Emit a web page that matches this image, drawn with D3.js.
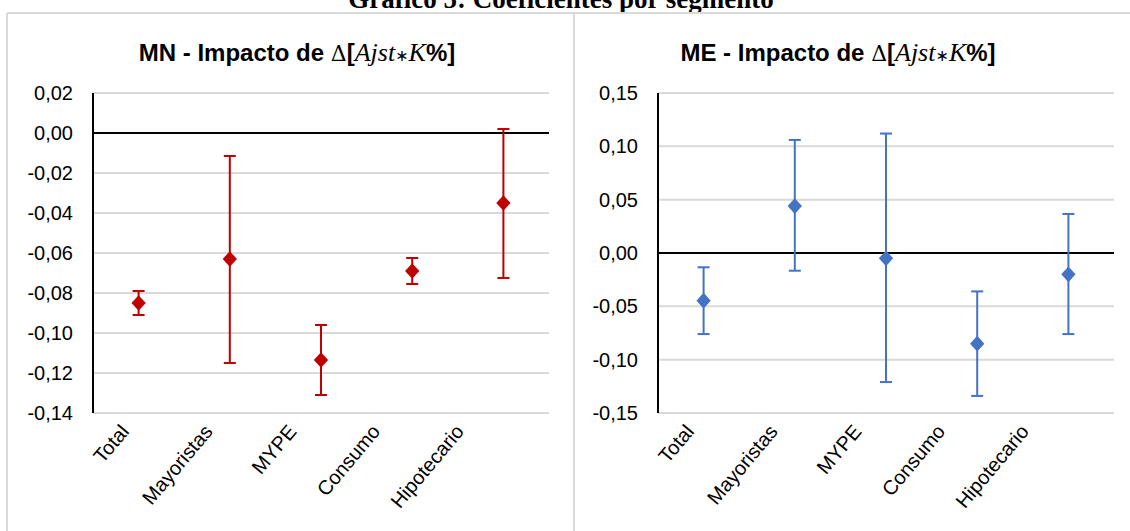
<!DOCTYPE html>
<html lang="es">
<head>
<meta charset="utf-8">
<script src="https://d3js.org/d3.v7.min.js"></script>
<style>
	body { margin: 0; background: #fff; }
	text { font-family: "Liberation Sans", Arial, sans-serif; }
</style>
</head>
<body>
<script>
	var width = 1130;
	var height = 531;

	// data
	var categories = ["Total", "Mayoristas", "MYPE", "Consumo", "Hipotecario"];

	var mnValues = [-0.085, -0.063, -0.1135, -0.069, -0.035];
	var mnUpper  = [-0.079, -0.0115, -0.096, -0.0625, 0.002];
	var mnLower  = [-0.091, -0.115, -0.131, -0.0755, -0.0725];
	var mnTicks  = [0.02, 0.00, -0.02, -0.04, -0.06, -0.08, -0.10, -0.12, -0.14];

	var meValues = [-0.0447, 0.044, -0.005, -0.085, -0.020];
	var meUpper  = [-0.0134, 0.106, 0.112, -0.036, 0.0366];
	var meLower  = [-0.076, -0.0166, -0.121, -0.134, -0.076];
	var meTicks  = [0.15, 0.10, 0.05, 0.00, -0.05, -0.10, -0.15];

	var svg = d3.select("body").append("svg")
		.attr("width", width)
		.attr("height", height);

	// page title (cut off at the top, as in the source)
	svg.append("text")
		.attr("x", 561)
		.attr("y", 8)
		.attr("text-anchor", "middle")
		.style("font-family", "'Liberation Serif', 'Times New Roman', serif")
		.style("font-weight", "bold")
		.style("font-size", "27px")
		.text("Gráfico 5: Coeficientes por segmento");

	// panel borders
	svg.append("line").attr("x1", 7).attr("x2", width).attr("y1", 13).attr("y2", 13)
		.attr("stroke", "#d9d9d9").attr("stroke-width", 2);
	svg.append("line").attr("x1", 7).attr("x2", 7).attr("y1", 13).attr("y2", height)
		.attr("stroke", "#d9d9d9").attr("stroke-width", 2);
	svg.append("line").attr("x1", 574).attr("x2", 574).attr("y1", 13).attr("y2", height)
		.attr("stroke", "#d9d9d9").attr("stroke-width", 2);

	function drawPanel(opt) {
		var g = svg.append("g");

		var x = d3.scaleBand().domain(categories).range([opt.left, opt.right]);
		var y = d3.scaleLinear().domain([opt.ticks[opt.ticks.length-1], opt.ticks[0]]).range([413, 93]);
		// labels sit a bit tighter than the ticks, like Excel draws them
		var xLab = d3.scalePoint().domain(categories).range([opt.left + 37, opt.right - 84]);

		//title
		var t = g.append("text")
			.attr("x", opt.titleX)
			.attr("y", 61)
			.attr("text-anchor", "middle")
			.style("font-size", "24px")
			.style("font-weight", "bold");
		t.append("tspan").text(opt.name + " - Impacto de ");
		t.append("tspan").style("font-family", "'DejaVu Serif', serif").style("font-weight", "normal").style("font-size", "22px").text("Δ");
		t.append("tspan").text("[");
		t.append("tspan").style("font-family", "'Liberation Serif', serif").style("font-style", "italic").style("font-weight", "normal").style("font-size", "26px").text("Ajst");
		t.append("tspan").style("font-family", "'DejaVu Sans', sans-serif").style("font-weight", "normal").style("font-size", "16px").text("∗");
		t.append("tspan").style("font-family", "'Liberation Serif', serif").style("font-style", "italic").style("font-weight", "normal").style("font-size", "26px").text("K");
		t.append("tspan").text("%]");

		//gridlines
		g.selectAll(".grid")
			.data(opt.ticks)
			.enter()
			.append("line")
				.attr("x1", opt.left)
				.attr("x2", opt.right)
				.attr("y1", function(d) {return y(d);})
				.attr("y2", function(d) {return y(d);})
				.attr("stroke", "#d9d9d9")
				.attr("stroke-width", 2);

		//y axis
		var yAxis = d3.axisLeft(y)
			.tickValues(opt.ticks)
			.tickSize(0)
			.tickPadding(20)
			.tickFormat(function(d) {return d3.format(".2f")(d).replace(".", ",").replace("−", "-");});
		var ya = g.append("g")
			.attr("transform", "translate(" + opt.left + ",0)")
			.call(yAxis);
		ya.select(".domain").remove();
		ya.selectAll("text")
			.style("font-size", "20px")
			.attr("fill", "#000");

		g.append("line")
			.attr("x1", opt.left).attr("x2", opt.left)
			.attr("y1", 93).attr("y2", 413)
			.attr("stroke", "#000").attr("stroke-width", 2);

		//zero line
		g.append("line")
			.attr("x1", opt.left).attr("x2", opt.right)
			.attr("y1", y(0)).attr("y2", y(0))
			.attr("stroke", "#000").attr("stroke-width", 2);

		//category labels
		var xAxis = d3.axisBottom(x).tickSize(0).tickPadding(0);
		var xa = g.append("g")
			.attr("transform", "translate(0,413)")
			.call(xAxis);
		xa.select(".domain").remove();
		xa.selectAll("text")
			.style("font-size", "20px")
			.attr("fill", "#000")
			.style("text-anchor", "end")
			.attr("dy", 0)
			.attr("transform", function(d) {
				var dx = xLab(d) - (x(d) + x.bandwidth()/2);
				return "translate(" + dx + ",19) rotate(-50)";
			});

		var cx = function(d, i) {return x(categories[i]) + x.bandwidth()/2;};

		//error bars
		g.selectAll(".err")
			.data(opt.values)
			.enter()
			.append("line")
				.attr("x1", cx).attr("x2", cx)
				.attr("y1", function(d, i) {return y(opt.upper[i]);})
				.attr("y2", function(d, i) {return y(opt.lower[i]);})
				.attr("stroke", opt.color).attr("stroke-width", 2);

		[opt.upper, opt.lower].forEach(function(arr) {
			g.selectAll(".cap")
				.data(arr)
				.enter()
				.append("line")
					.attr("x1", function(d, i) {return cx(d, i) - 6;})
					.attr("x2", function(d, i) {return cx(d, i) + 6;})
					.attr("y1", function(d) {return y(d);})
					.attr("y2", function(d) {return y(d);})
					.attr("stroke", opt.color).attr("stroke-width", 2);
		});

		//points
		g.selectAll(".pt")
			.data(opt.values)
			.enter()
			.append("path")
				.attr("d", d3.symbol().type(d3.symbolDiamond2).size(130))
				.attr("transform", function(d, i) {return "translate(" + cx(d, i) + "," + y(d) + ") scale(1,1.1)";})
				.attr("fill", opt.color);
	}

	drawPanel({name: "MN", left: 93, right: 549, titleX: 297, ticks: mnTicks,
		values: mnValues, upper: mnUpper, lower: mnLower, color: "#c00000"});
	drawPanel({name: "ME", left: 658, right: 1114, titleX: 838, ticks: meTicks,
		values: meValues, upper: meUpper, lower: meLower, color: "#4472c4"});
</script>
</body>
</html>
